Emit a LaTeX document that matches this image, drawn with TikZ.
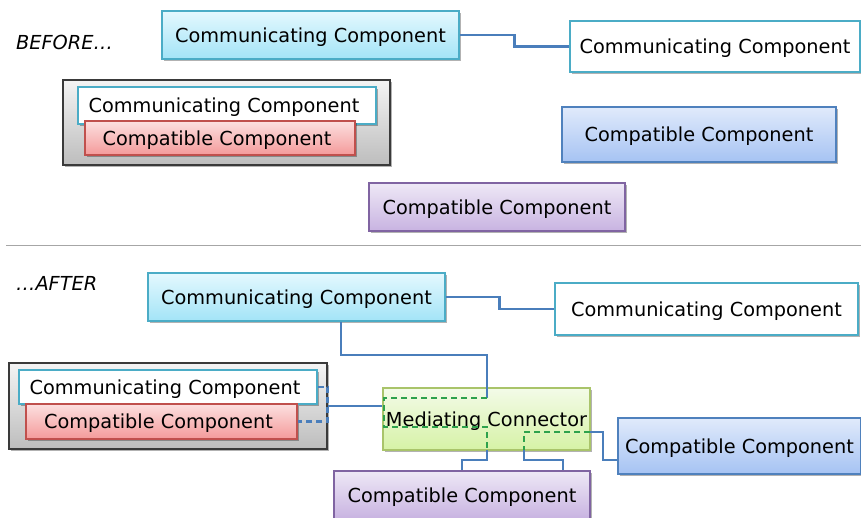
\documentclass[tikz,border=0pt]{standalone}
\usepackage{fontspec}
\setmainfont{DejaVu Sans}
\usetikzlibrary{shadows}
\definecolor{cyanT}{HTML}{E4F8FE}
\definecolor{cyanB}{HTML}{A3E4F7}
\definecolor{cyanD}{HTML}{4BACC6}
\definecolor{redT}{HTML}{FCE0E0}
\definecolor{redB}{HTML}{F49A9A}
\definecolor{redD}{HTML}{C0504D}
\definecolor{grayT}{HTML}{F4F4F4}
\definecolor{grayB}{HTML}{BDBDBD}
\definecolor{grayD}{HTML}{3A3A3A}
\definecolor{bluT}{HTML}{E0EAFB}
\definecolor{bluB}{HTML}{A6C3F3}
\definecolor{bluD}{HTML}{4F81BD}
\definecolor{purT}{HTML}{EEE8F6}
\definecolor{purB}{HTML}{C8B3E1}
\definecolor{purD}{HTML}{8064A2}
\definecolor{grnT}{HTML}{F3FBE8}
\definecolor{grnB}{HTML}{D6F2A6}
\definecolor{grnD}{HTML}{A9C46A}
\definecolor{lineB}{HTML}{4A7EBB}
\definecolor{lineG}{HTML}{2DA24C}
\definecolor{sepC}{HTML}{A6A6A6}
\tikzset{
  basebox/.style={draw, line width=1.1pt, inner sep=0pt, text depth=0pt,
    drop shadow={shadow xshift=1.5pt, shadow yshift=-2pt, opacity=0.3, fill=black}},
  commbox/.style={basebox, draw=cyanD, top color=cyanT, bottom color=cyanB},
  whitebox/.style={basebox, draw=cyanD, fill=white},
  redbox/.style={basebox, draw=redD, top color=redT, bottom color=redB},
  graybox/.style={basebox, draw=grayD, top color=grayT, bottom color=grayB},
  bluebox/.style={basebox, draw=bluD, top color=bluT, bottom color=bluB},
  purbox/.style={basebox, draw=purD, top color=purT, bottom color=purB},
  medbox/.style={basebox, draw=grnD, top color=grnT, bottom color=grnB},
  conn/.style={draw=lineB, line width=2.7pt},
  conndash/.style={draw=lineB, line width=2.5pt, dash pattern=on 6pt off 4pt},
  gdash/.style={draw=lineG, line width=2.5pt, dash pattern=on 6pt off 4pt},
  phase/.style={font=\fontsize{19.3}{23}\selectfont\itshape, anchor=west, inner sep=0pt, text depth=0pt}
}
\newcommand\mybox[7]{\node[#2, minimum width={#5-#3}, minimum height={#6-#4}] (#1) at ({(#3+#5)/2},{(#4+#6)/2}) {#7};}
\begin{document}
\begin{tikzpicture}[x=1pt,y=-1pt, font=\fontsize{19.3}{23}\selectfont]
\useasboundingbox[fill=white] (0,0) rectangle (861,517);
% BEFORE
\node[phase] (before) at (16,42) {BEFORE…};
\mybox{cc1}{commbox}{162}{11}{459}{59}{Communicating Component}
\mybox{cw1}{whitebox}{570}{21}{860}{72}{Communicating Component}
\draw[conn] (cc1.east) -- ++(55,0) |- (cw1.west);
\mybox{g1}{graybox}{63}{80}{390}{165}{}
\mybox{w1}{whitebox}{78}{87}{376}{124}{\hspace*{-6pt}Communicating Component}
\mybox{r1}{redbox}{85}{121}{355}{155}{\hspace*{-6pt}Compatible Component}
\mybox{cb1}{bluebox}{562}{107}{836}{162}{Compatible Component}
\mybox{cp1}{purbox}{369}{183}{625}{231}{Compatible Component}
% separator
\coordinate (sl) at (6,245);
\coordinate (sr) at (861,245);
\draw[sepC, line width=1pt] (sl) -- (sr);
% AFTER
\node[phase] (after) at (16,283) {…AFTER};
\mybox{cc2}{commbox}{148}{273}{445}{321}{Communicating Component}
\mybox{cw2}{whitebox}{555}{283}{858}{335}{Communicating Component}
\draw[conn] (cc2.east) -- ++(54,0) |- (cw2.west);
\mybox{g2}{graybox}{9}{363}{327}{449}{}
\mybox{w2}{whitebox}{19}{370}{317}{404}{\hspace*{-6pt}Communicating Component}
\mybox{r2}{redbox}{26}{404}{297}{439}{\hspace*{-6pt}Compatible Component}
\mybox{med}{medbox}{383}{388}{590}{450}{Mediating Connector}
\mybox{cb2}{bluebox}{618}{418}{861}{474}{Compatible Component}
\mybox{cp2}{purbox}{334}{471}{590}{519}{Compatible Component}
% connectors
\draw[conndash] (w2.east) -- ++(10,0) |- (r2.east);
\draw[conn] (g2.east) -- (g2.east -| med.west);
\coordinate (j1) at (341,355);
\coordinate (j2) at (487,355);
\coordinate (p1) at (487,398);
\draw[conn] (cc2.south -| j1) -- (j1) -- (j2) -- (p1);
\coordinate (d1) at (384,398);
\coordinate (d2) at (384,427);
\coordinate (d3) at (487,427);
\coordinate (d4) at (487,450);
\draw[gdash] (p1) -- (d1) -- (d2) -- (d3) -- (d4);
\coordinate (k1) at (487,460);
\coordinate (k2) at (462,460);
\draw[conn] (d4) -- (k1) -- (k2) -- (k2 |- cp2.north);
\coordinate (e1) at (590,432);
\coordinate (e2) at (524,432);
\coordinate (e3) at (524,450);
\draw[gdash] (e1) -- (e2) -- (e3);
\coordinate (m1) at (524,460);
\coordinate (m2) at (563,460);
\draw[conn] (e3) -- (m1) -- (m2) -- (m2 |- cp2.north);
\coordinate (f1) at (603,432);
\coordinate (f2) at (603,460);
\draw[conn] (e1) -- (f1) -- (f2) -- (f2 -| cb2.west);
\end{tikzpicture}
\end{document}
